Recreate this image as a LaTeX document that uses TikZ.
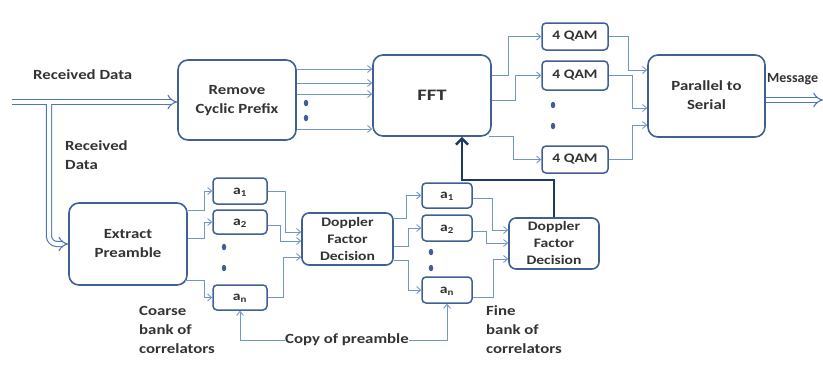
\documentclass[tikz,border=0pt]{standalone}
\usepackage{fontspec}
\usepackage{graphicx}
\setmainfont{Carlito}
\usetikzlibrary{arrows.meta,shapes.geometric}
\definecolor{boxc}{HTML}{3F5F95}
\definecolor{linec}{HTML}{7096CC}
\definecolor{dblc}{HTML}{4F76B8}
\definecolor{navy}{HTML}{1F3864}
\definecolor{txt}{HTML}{333333}
\newcommand{\wc}[1]{\scalebox{1.2}[1]{\begin{tabular}[t]{@{}c@{}}#1\end{tabular}}}
\newcommand{\wl}[1]{\scalebox{1.2}[1]{\begin{tabular}[t]{@{}l@{}}#1\end{tabular}}}
\newcommand{\wcm}[1]{\scalebox{1.2}[1]{\begin{tabular}{@{}c@{}}#1\end{tabular}}}
\begin{document}
\begin{tikzpicture}[x=1pt,y=-1pt,
 box/.style={draw=boxc, line width=1.6pt, rounded corners=10pt, fill=white, align=center,
   font=\fontsize{14}{19}\selectfont\bfseries, text=txt, inner sep=0pt},
 sbox/.style={box, rounded corners=4pt, line width=1.5pt, font=\fontsize{13}{16}\selectfont\bfseries},
 dbox/.style={box, rounded corners=7pt, font=\fontsize{13}{17}\selectfont\bfseries},
 conn/.style={draw=linec, line width=0.9pt, -{Straight Barb[length=4pt,width=7pt]}},
 dbl/.style={draw=dblc, line width=1.1pt, double=white, double distance=4pt, -{Implies}},
 dotn/.style={ellipse, fill=boxc, minimum width=4.5pt, minimum height=6.5pt, inner sep=0pt},
 lbl/.style={font=\fontsize{14}{19}\selectfont\bfseries, text=txt, inner sep=0pt}
]
\useasboundingbox (0,0) rectangle (823,365);
% main boxes
\node[box, minimum width=118, minimum height=80] (rcp) at (237,100) {\wcm{Remove\\Cyclic Prefix}};
\node[box, minimum width=118, minimum height=81, font=\fontsize{16}{19}\selectfont\bfseries] (fft) at (432,95.5) {\scalebox{1.3}[1]{FFT}};
\node[sbox, minimum width=66, minimum height=27] (q1) at (575,36.5) {\wcm{4 QAM}};
\node[sbox, minimum width=66, minimum height=29] (q2) at (575,75.5) {\wcm{4 QAM}};
\node[sbox, minimum width=66, minimum height=27] (q3) at (575,159.5) {\wcm{4 QAM}};
\node[box, minimum width=117, minimum height=82] (ps) at (706.5,96) {\wcm{Parallel to\\Serial}};
\node[box, minimum width=118, minimum height=82] (ep) at (128,244) {\wcm{Extract\\Preamble}};
\node[sbox, minimum width=54, minimum height=26] (ca1) at (240,191) {\wcm{a\textsubscript{1}}};
\node[sbox, minimum width=54, minimum height=24] (ca2) at (240,222) {\wcm{a\textsubscript{2}}};
\node[sbox, minimum width=54, minimum height=25] (can) at (240,297.5) {\wcm{a\textsubscript{n}}};
\node[dbox, minimum width=91, minimum height=52] (d1) at (347.5,239) {};
\node[font=\fontsize{13}{17}\selectfont\bfseries, text=txt, inner sep=0pt, anchor=south] (d1t) at (d1.south) {\wcm{Doppler\\Factor\\Decision}};
\node[sbox, minimum width=50, minimum height=25] (fa1) at (447,195.5) {\wcm{a\textsubscript{1}}};
\node[sbox, minimum width=50, minimum height=26] (fa2) at (447,228) {\wcm{a\textsubscript{2}}};
\node[sbox, minimum width=50, minimum height=26] (fan) at (447,290) {\wcm{a\textsubscript{n}}};
\node[dbox, minimum width=90, minimum height=51] (d2) at (554,243.5) {};
\node[font=\fontsize{13}{17}\selectfont\bfseries, text=txt, inner sep=0pt, anchor=south] (d2t) at (d2.south) {\wcm{Doppler\\Factor\\Decision}};
% dots
\foreach \p/\n in {{306,103}/r1,{306,118}/r2,{553,105}/q1d,{553,126}/q2d,{224,247}/c1,{224,268}/c2,{431,252}/f1,{431,268}/f2}
  \node[dotn] (dot\n) at (\p) {};
% labels
\node[lbl, anchor=base west] (rd1) at (33,79) {\wl{Received Data}};
\node[lbl, anchor=base west] (rd2) at (65,150) {\wl{Received\\Data}};
\node[lbl, anchor=base west] (msg) at (767,82) {Message};
\node[lbl, anchor=base west] (cb) at (139,315) {\wl{Coarse\\bank of\\correlators}};
\node[lbl, anchor=base west] (fb) at (486,315) {\wl{Fine\\bank of\\correlators}};
\node[lbl] (cp) at (347,340) {\wcm{Copy of preamble}};
% double lines
\coordinate (in) at (12,102);
\coordinate (br) at (49,104);
\draw[dbl] (in) -- (rcp.west |- in);
\draw[dbl, rounded corners=8pt] (br) -- (br |- ep.west) -- (ep.west);
\draw[dbl] (ps.east |- 0,100) -- (823,100);
% rcp -> fft
\foreach \y in {69,83,94,129} \draw[conn] (rcp.east |- 0,\y) -- (fft.west |- 0,\y);
% fft -> qam
\draw[conn] (fft.east |- 0,75) -| (508,36.5) -- (q1.west);
\draw[conn] (fft.east |- 0,100) -| (515,75.5) -- (q2.west);
\draw[conn] (489,136) -| (513,159.5) -- (q3.west);
% qam -> p2s
\draw[conn] (q1.east) -| (628,70) -- (ps.west |- 0,70);
\draw[conn] (q2.east) -| (632,108) -- (ps.west |- 0,108);
\draw[conn] (q3.east) -| (632,125) -- (ps.west |- 0,125);
% ep -> coarse
\draw[conn] (ep.east |- 0,210) -| (204,191) -- (ca1.west);
\draw[conn] (ep.east |- 0,238) -| (204,222) -- (ca2.west);
\draw[conn] (185,280) -| (204,297.5) -- (can.west);
% coarse -> d1
\draw[conn] (ca1.east) -| (285,232) -- (d1.west |- 0,232);
\draw[conn] (ca2.east |- 0,225) -| (280,241) -- (d1.west |- 0,241);
\draw[conn] (can.east) -| (283,257) -- (d1.west |- 0,257);
% d1 -> fine
\draw[conn] (d1.east |- 0,218) -| (406,195.5) -- (fa1.west);
\draw[conn] (d1.east |- 0,246) -| (408,228) -- (fa2.west);
\draw[conn] (d1.east |- 0,260) -| (408,290) -- (fan.west);
% fine -> d2
\draw[conn] (fa1.east |- 0,198) -| (492,230) -- (d2.west |- 0,230);
\draw[conn] (fa2.east |- 0,231) -| (486,243) -- (d2.west |- 0,243);
\draw[conn] (fan.east |- 0,297) -| (493,259) -- (d2.west |- 0,259);
% copy of preamble
\draw[conn] (cp.west) -| (can.south -| 240,0);
\draw[conn] (cp.east) -| (fan.south);
% feedback
\draw[draw=navy, line width=2.6pt, -{Straight Barb[length=6pt,width=12pt]}] (d2.north) -- (554,180) -| (fft.south -| 462,0);
\end{tikzpicture}
\end{document}
